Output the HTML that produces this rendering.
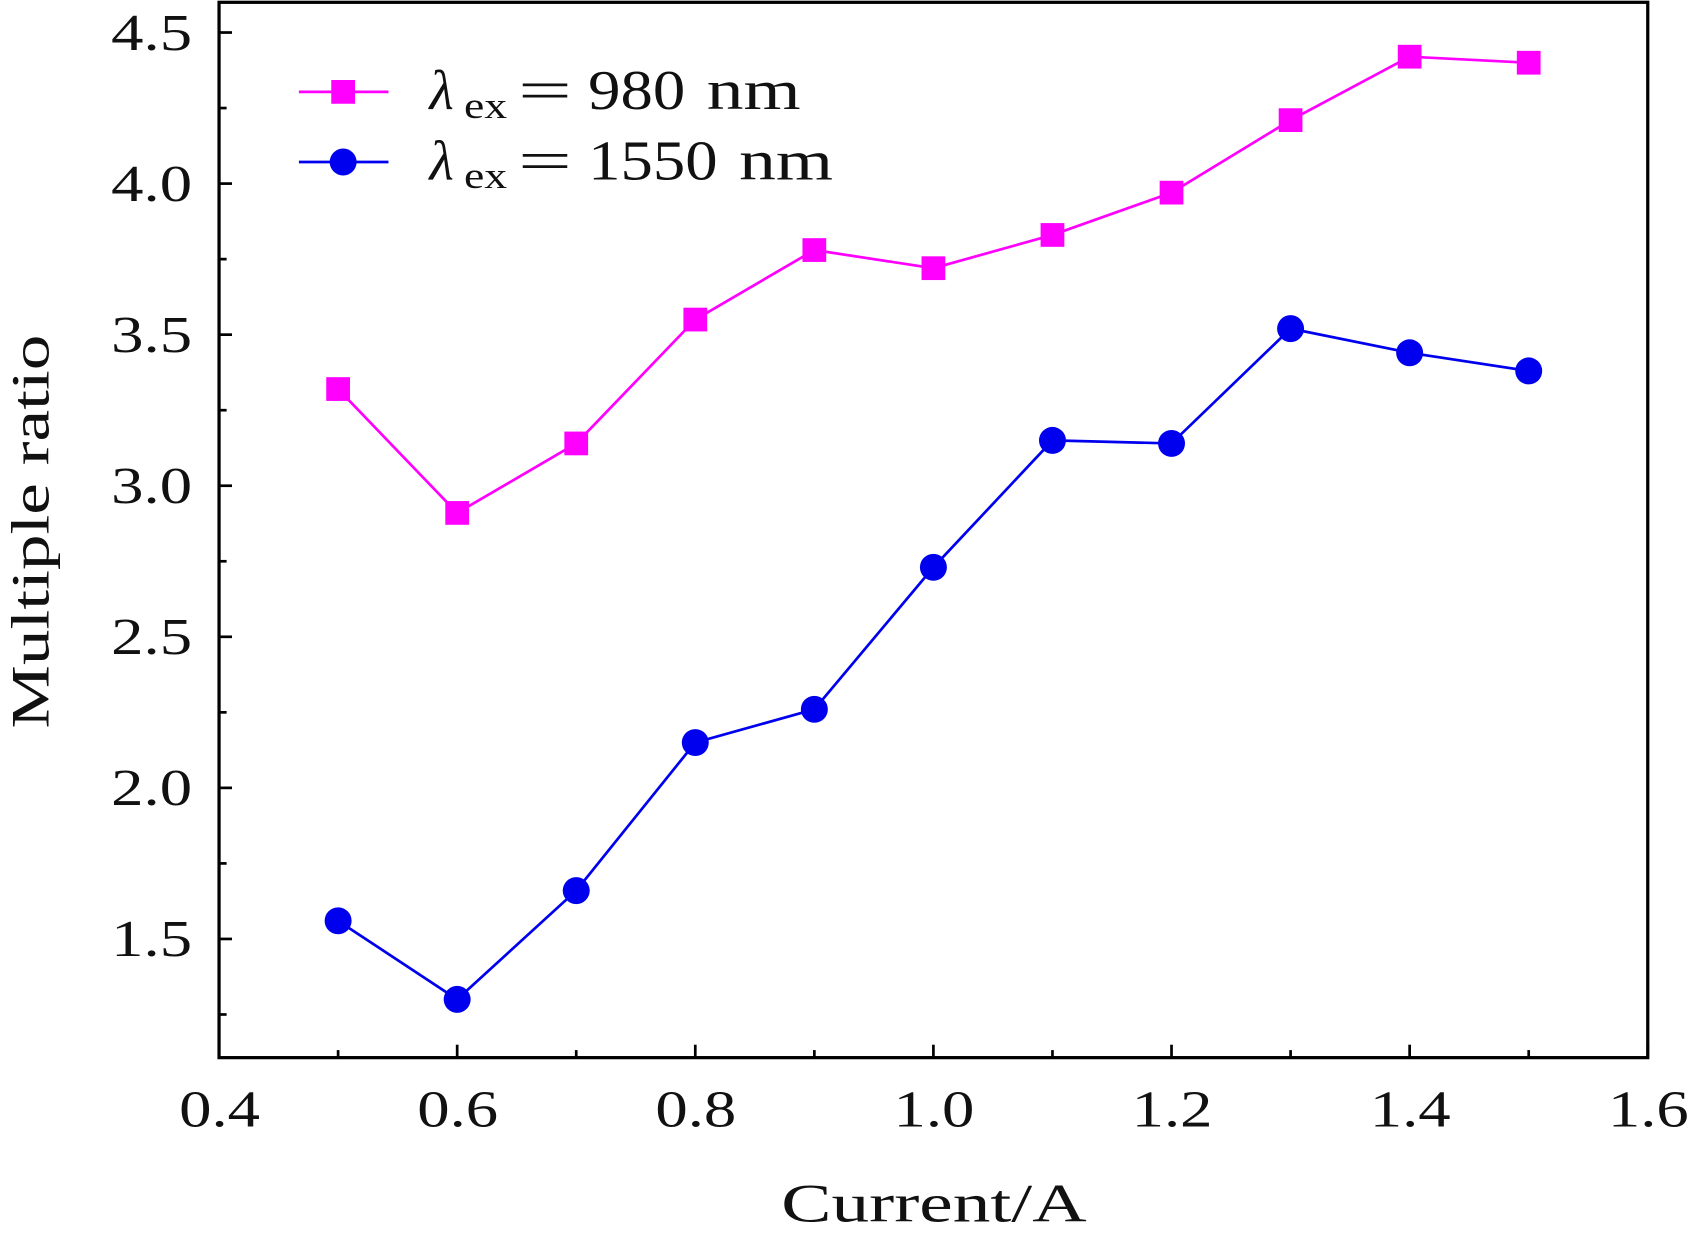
<!DOCTYPE html>
<html><head><meta charset="utf-8"><style>
html,body{margin:0;padding:0;background:#fff;}
svg{display:block;}
text{font-family:"Liberation Serif",serif;fill:#111;}
</style></head><body>
<svg id="chart" width="1692" height="1238" viewBox="0 0 1568 1147" xmlns="http://www.w3.org/2000/svg"></svg>
<script>
const xValues = [0.5,0.6,0.7,0.8,0.9,1.0,1.1,1.2,1.3,1.4,1.5];
const series980 = [3.32,2.91,3.14,3.55,3.78,3.72,3.83,3.97,4.21,4.42,4.40];
const series1550 = [1.56,1.30,1.66,2.15,2.26,2.73,3.15,3.14,3.52,3.44,3.38];
const xTickLabels = ["0.4","0.6","0.8","1.0","1.2","1.4","1.6"];
const yTickLabels = ["1.5","2.0","2.5","3.0","3.5","4.0","4.5"];

const L=203,R=1527,T=2,B=980;
const xMin=0.4,xMax=1.6,yMin=1.5-110/280,yMax=4.5+28/280;
const sx=v=>L+(v-xMin)/(xMax-xMin)*(R-L);
const sy=v=>B-(v-yMin)/(yMax-yMin)*(B-T);
const NS="http://www.w3.org/2000/svg";
const svg=document.getElementById('chart');
function mk(tag,attrs,parent){const e=document.createElementNS(NS,tag);for(const k in attrs)e.setAttribute(k,attrs[k]);(parent||svg).appendChild(e);return e;}

let fr=mk('rect',{x:L,y:T,width:R-L,height:B-T,fill:'none',stroke:'#000','stroke-width':3});



xTickLabels.forEach(s=>{const v=parseFloat(s);const x=sx(v);
 const t=mk('line',{x1:x,x2:x,y1:B,y2:B-12,stroke:'#000','stroke-width':2.5});
 
 
 const m=sx(v+0.1); if(v+0.1<xMax){const mt=mk('line',{x1:m,x2:m,y1:B,y2:B-7,stroke:'#000','stroke-width':2.5});
 
 }
 const lb=mk('text',{x:x-37,y:B+64,'font-size':48,textLength:75,lengthAdjust:'spacingAndGlyphs'});lb.textContent=s;
 
 
});
yTickLabels.forEach(s=>{const v=parseFloat(s);const y=sy(v);
 const t=mk('line',{x1:L,x2:L+12,y1:y,y2:y,stroke:'#000','stroke-width':2.5});
 
 
 const m=sy(v-0.25); if(v-0.25>yMin){const mt=mk('line',{x1:L,x2:L+7,y1:m,y2:m,stroke:'#000','stroke-width':2.5});
 
 }
 const lb=mk('text',{x:103,y:y+16,'font-size':48,textLength:75,lengthAdjust:'spacingAndGlyphs'});lb.textContent=s;
 
 
});
let xt=mk('text',{x:724,y:1132,'font-size':50,textLength:283,lengthAdjust:'spacingAndGlyphs'});xt.textContent='Current/A';


let yt=mk('text',{x:0,y:0,'font-size':50,textLength:365,lengthAdjust:'spacingAndGlyphs',transform:'translate(45,675) rotate(-90)'});yt.textContent='Multiple ratio';



function drawSeries(vals,color,shape,name){
 const pts=vals.map((v,i)=>sx(xValues[i])+','+sy(v)).join(' ');
 const pl=mk('polyline',{points:pts,fill:'none',stroke:color,'stroke-width':2.5});
 
 
 vals.forEach((v,i)=>{const x=sx(xValues[i]),y=sy(v);let m;
  if(shape==='square')m=mk('rect',{x:x-11,y:y-11,width:22,height:22,fill:color});
  else m=mk('circle',{cx:x,cy:y,r:12.5,fill:color});
  
  
 });
}
drawSeries(series980,'#ff00ff','square','series-980nm');
drawSeries(series1550,'#0000ee','circle','series-1550nm');

function legend(y,color,shape,label,numW,name){
 const g=mk('g',{});
 
 
 mk('line',{x1:277,x2:360,y1:y,y2:y,stroke:color,'stroke-width':2.5},g);
 if(shape==='square')mk('rect',{x:307,y:y-11,width:22,height:22,fill:color},g);
 else mk('circle',{cx:318,cy:y,r:12.5,fill:color},g);
 const l=mk('text',{x:398,y:y+16,'font-size':52,'font-style':'italic'},g);l.textContent='λ';
 const s=mk('text',{x:430,y:y+24,'font-size':34,textLength:40,lengthAdjust:'spacingAndGlyphs'},g);s.textContent='ex';
 const e=mk('text',{x:480,y:y+16,'font-size':52,textLength:50,lengthAdjust:'spacingAndGlyphs'},g);e.textContent='=';
 const n=mk('text',{x:545,y:y+16,'font-size':52,textLength:numW,lengthAdjust:'spacingAndGlyphs'},g);n.textContent=label;
 const u=mk('text',{x:545+numW+20,y:y+16,'font-size':52,textLength:87,lengthAdjust:'spacingAndGlyphs'},g);u.textContent='nm';
}
legend(85,'#ff00ff','square','980',90,'legend-entry-980nm');
legend(150,'#0000ee','circle','1550',120,'legend-entry-1550nm');
</script>
</body></html>
